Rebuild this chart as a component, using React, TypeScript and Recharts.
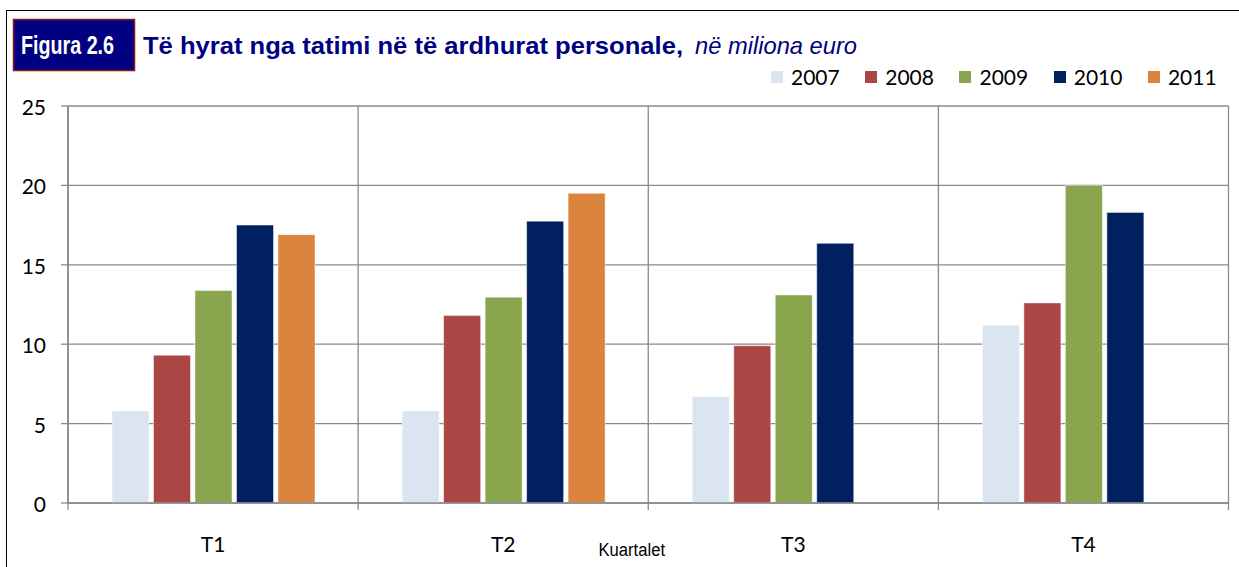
import React from 'react';
import { BarChart, Bar, XAxis, YAxis, CartesianGrid, Legend } from 'recharts';

const categories = ['T1', 'T2', 'T3', 'T4'];
const years = ['2007', '2008', '2009', '2010', '2011'];
const v2007 = [5.8, 5.8, 6.7, 11.2];
const v2008 = [9.3, 11.8, 9.9, 12.6];
const v2009 = [13.38, 12.96, 13.1, 20.0];
const v2010 = [17.5, 17.75, 16.35, 18.3];
const v2011 = [16.9, 19.5, null, null];
const yTicks = [0, 5, 10, 15, 20, 25];
const boundaryTicks = [0, 1, 2, 3, 4];
const colors = ['#DBE5F1', '#AA4643', '#89A54E', '#002060', '#DB843D'];

const seriesValues = [v2007, v2008, v2009, v2010, v2011];
const data = categories.map((c, i) => {
  const row: Record<string, string | number | null> = { name: c, pos: i + 0.5 };
  years.forEach((y, k) => {
    row[y] = seriesValues[k][i];
  });
  return row;
});

const GRID = '#8a8a8a';
const TICK_FONT = 'Lato, "Open Sans", sans-serif';

const LegendContent = (props: any) => {
  const payload = props.payload || [];
  return (
    <div style={{ display: 'flex', alignItems: 'center', height: 24, whiteSpace: 'nowrap' }}>
      {payload.map((p: any, i: number) => (
        <div key={i} style={{ display: 'flex', alignItems: 'center', marginRight: 25.5 }}>
          <span style={{ display: 'inline-block', width: 12, height: 12, background: p.color, marginRight: 8 }} />
          <span style={{ fontFamily: TICK_FONT, fontSize: 21, color: '#000', lineHeight: '24px' }}>{p.value}</span>
        </div>
      ))}
    </div>
  );
};

const EmptyTick = () => <g />;

export default function App() {
  return (
    <div style={{ position: 'fixed', left: 0, top: 0, width: 1239, height: 567, overflow: 'hidden', background: '#fff' }}>
      <div
        style={{
          position: 'absolute',
          left: 6,
          top: 10,
          width: 1400,
          height: 700,
          borderLeft: '1.6px solid #000',
          borderTop: '1.6px solid #000',
        }}
      />
      <div style={{ position: 'absolute', left: 0, top: 0 }}>
        <BarChart
          width={1239}
          height={567}
          data={data}
          margin={{ top: 106, right: 10.5, bottom: 0, left: 0 }}
          barSize={37}
          barGap={4.5}
        >
          <CartesianGrid stroke={GRID} strokeWidth={1.3} vertical horizontal />
          <XAxis
            xAxisId={0}
            dataKey="pos"
            type="number"
            domain={[0, 4]}
            ticks={boundaryTicks}
            allowDataOverflow
            height={1}
            tick={<EmptyTick />}
            tickSize={7}
            tickLine={{ stroke: GRID, strokeWidth: 1.3 }}
            axisLine={{ stroke: GRID, strokeWidth: 1.6 }}
          />
          <XAxis
            xAxisId="cat"
            dataKey="name"
            type="category"
            height={63}
            axisLine={false}
            tickLine={false}
            tickSize={0}
            tickMargin={33}
            tick={{ fontFamily: TICK_FONT, fontSize: 21, fill: '#000' }}
          />
          <YAxis
            domain={[0, 25]}
            ticks={yTicks}
            width={68}
            tickSize={7}
            tickMargin={15}
            tickLine={{ stroke: GRID, strokeWidth: 1.3 }}
            axisLine={{ stroke: GRID, strokeWidth: 1.6 }}
            tick={{ fontFamily: TICK_FONT, fontSize: 21, fill: '#000', dy: 1.5 }}
          />
          <Legend
            layout="vertical"
            align="center"
            verticalAlign="middle"
            content={<LegendContent />}
            wrapperStyle={{ top: 64.5, left: 771, width: 'auto', height: 24 }}
          />
          {years.map((y, k) => (
            <Bar
              key={y}
              xAxisId="cat"
              dataKey={y}
              name={y}
              fill={colors[k]}
              stroke="#ffffff"
              strokeOpacity={0.45}
              strokeWidth={1}
              isAnimationActive={false}
            />
          ))}
        </BarChart>
      </div>
      <svg width={1239} height={567} style={{ position: 'absolute', left: 0, top: 0, pointerEvents: 'none' }}>
        <rect x={13.5} y={19.5} width={121} height={51} fill="#000080" stroke="#8B1A1A" strokeWidth={1.5} />
        <text
          x={21}
          y={54.3}
          fill="#ffffff"
          fontFamily='"Liberation Sans", Arial, sans-serif'
          fontWeight="bold"
          fontSize={25}
          textLength={93}
          lengthAdjust="spacingAndGlyphs"
        >
          Figura 2.6
        </text>
        <text
          x={143}
          y={54.3}
          fill="#000080"
          fontFamily='"Liberation Sans", Arial, sans-serif'
          fontWeight="bold"
          fontSize={24}
          textLength={540}
          lengthAdjust="spacingAndGlyphs"
        >
          Të hyrat nga tatimi në të ardhurat personale,
        </text>
        <text
          x={695}
          y={54.3}
          fill="#000080"
          fontFamily='"Liberation Sans", Arial, sans-serif'
          fontStyle="italic"
          fontSize={24}
          textLength={162}
          lengthAdjust="spacingAndGlyphs"
        >
          në miliona euro
        </text>
        <text
          x={598.5}
          y={555.7}
          fill="#000"
          fontFamily='"Liberation Sans", Arial, sans-serif'
          fontSize={18}
          textLength={66.5}
          lengthAdjust="spacingAndGlyphs"
        >
          Kuartalet
        </text>
      </svg>
    </div>
  );
}
